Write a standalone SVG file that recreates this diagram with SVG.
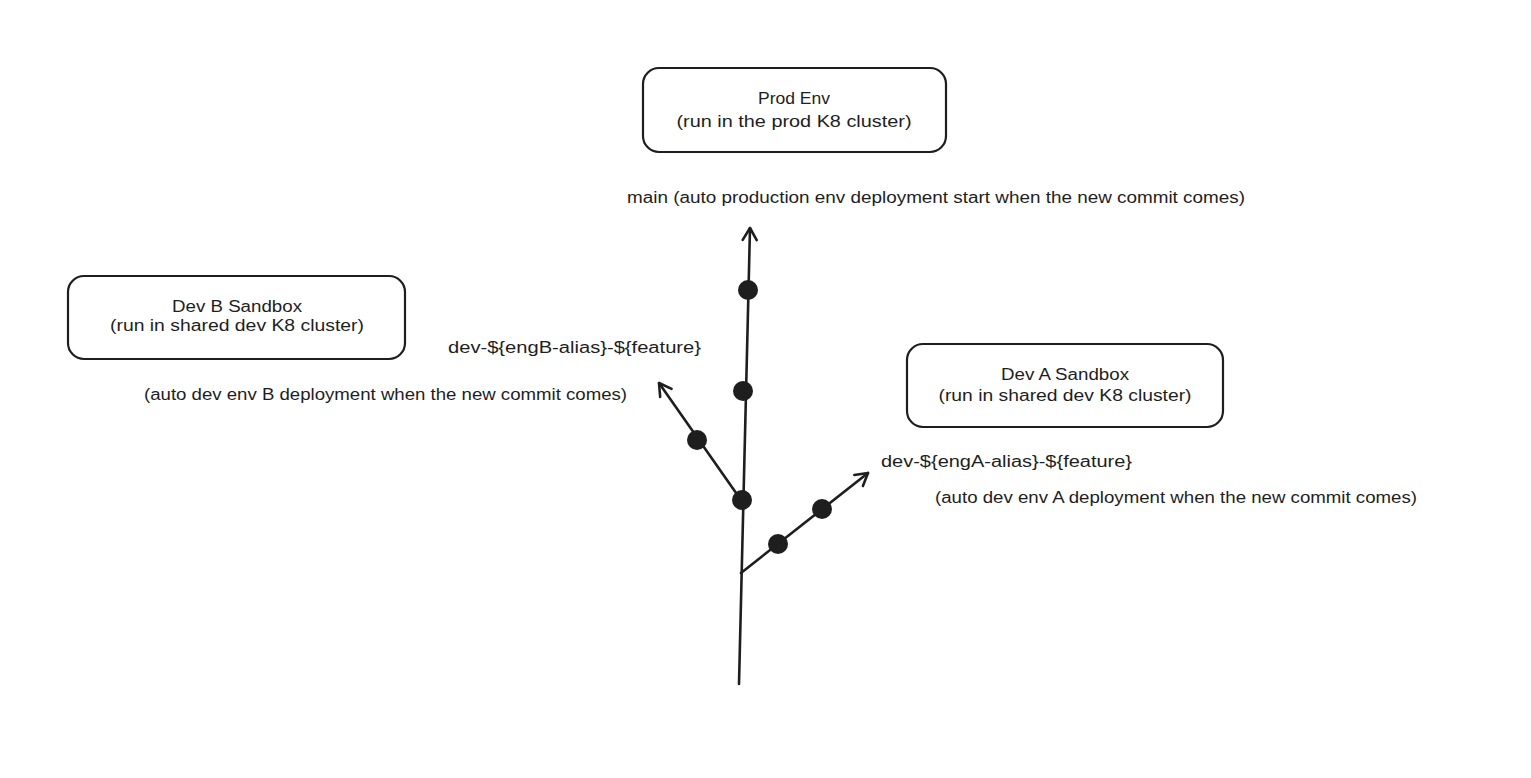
<svg xmlns="http://www.w3.org/2000/svg" width="1531" height="778" viewBox="0 0 1531 778">
<style>
.box{fill:#ffffff;stroke:#1e1e1e;stroke-width:2.2}
.t{font-family:"Liberation Sans","DejaVu Sans",sans-serif;font-size:16px;fill:#1e1e1e}
.c{text-anchor:middle}
.edge{fill:none;stroke:#1e1e1e;stroke-width:2.6;stroke-linecap:round}
.dot{fill:#1e1e1e}
</style>
<defs>
<marker id="arr" markerUnits="userSpaceOnUse" markerWidth="30" markerHeight="30" refX="15" refY="15" orient="auto">
<path d="M3,8 L15,15 L3,22" fill="none" stroke="#1e1e1e" stroke-width="2.6" stroke-linecap="round" stroke-linejoin="round"/>
</marker>
</defs>
<rect width="1531" height="778" fill="#ffffff"/>
<g id="prod">
<rect class="box" x="643" y="68" width="303" height="84" rx="16"/>
<text class="t c" x="794" y="104" textLength="72" lengthAdjust="spacingAndGlyphs">Prod Env</text>
<text class="t c" x="794" y="127" textLength="235" lengthAdjust="spacingAndGlyphs">(run in the prod K8 cluster)</text>
</g>
<g id="devB">
<rect class="box" x="68" y="276" width="337" height="83" rx="16"/>
<text class="t c" x="237" y="312" textLength="130" lengthAdjust="spacingAndGlyphs">Dev B Sandbox</text>
<text class="t c" x="237" y="331" textLength="254" lengthAdjust="spacingAndGlyphs">(run in shared dev K8 cluster)</text>
</g>
<g id="devA">
<rect class="box" x="907" y="344" width="316" height="83" rx="16"/>
<text class="t c" x="1065" y="380" textLength="128" lengthAdjust="spacingAndGlyphs">Dev A Sandbox</text>
<text class="t c" x="1065" y="401" textLength="253" lengthAdjust="spacingAndGlyphs">(run in shared dev K8 cluster)</text>
</g>
<g id="labels">
<text class="t" x="627" y="203" textLength="618" lengthAdjust="spacingAndGlyphs">main (auto production env deployment start when the new commit comes)</text>
<text class="t" x="448" y="353" textLength="253" lengthAdjust="spacingAndGlyphs">dev-${engB-alias}-${feature}</text>
<text class="t" x="144" y="400" textLength="483" lengthAdjust="spacingAndGlyphs">(auto dev env B deployment when the new commit comes)</text>
<text class="t" x="881" y="467" textLength="251" lengthAdjust="spacingAndGlyphs">dev-${engA-alias}-${feature}</text>
<text class="t" x="935" y="503" textLength="482" lengthAdjust="spacingAndGlyphs">(auto dev env A deployment when the new commit comes)</text>
</g>
<g id="connectors">
<path class="edge" d="M739,684 L750,228" marker-end="url(#arr)"/>
<path class="edge" d="M741,500 L659,383" marker-end="url(#arr)"/>
<path class="edge" d="M741,573 L868,473" marker-end="url(#arr)"/>
</g>
<g id="commits">
<circle class="dot" cx="748" cy="290" r="10"/>
<circle class="dot" cx="743" cy="391" r="10"/>
<circle class="dot" cx="742" cy="500" r="10"/>
<circle class="dot" cx="697" cy="440" r="10"/>
<circle class="dot" cx="778" cy="544" r="10"/>
<circle class="dot" cx="822" cy="509" r="10"/>
</g>
</svg>
